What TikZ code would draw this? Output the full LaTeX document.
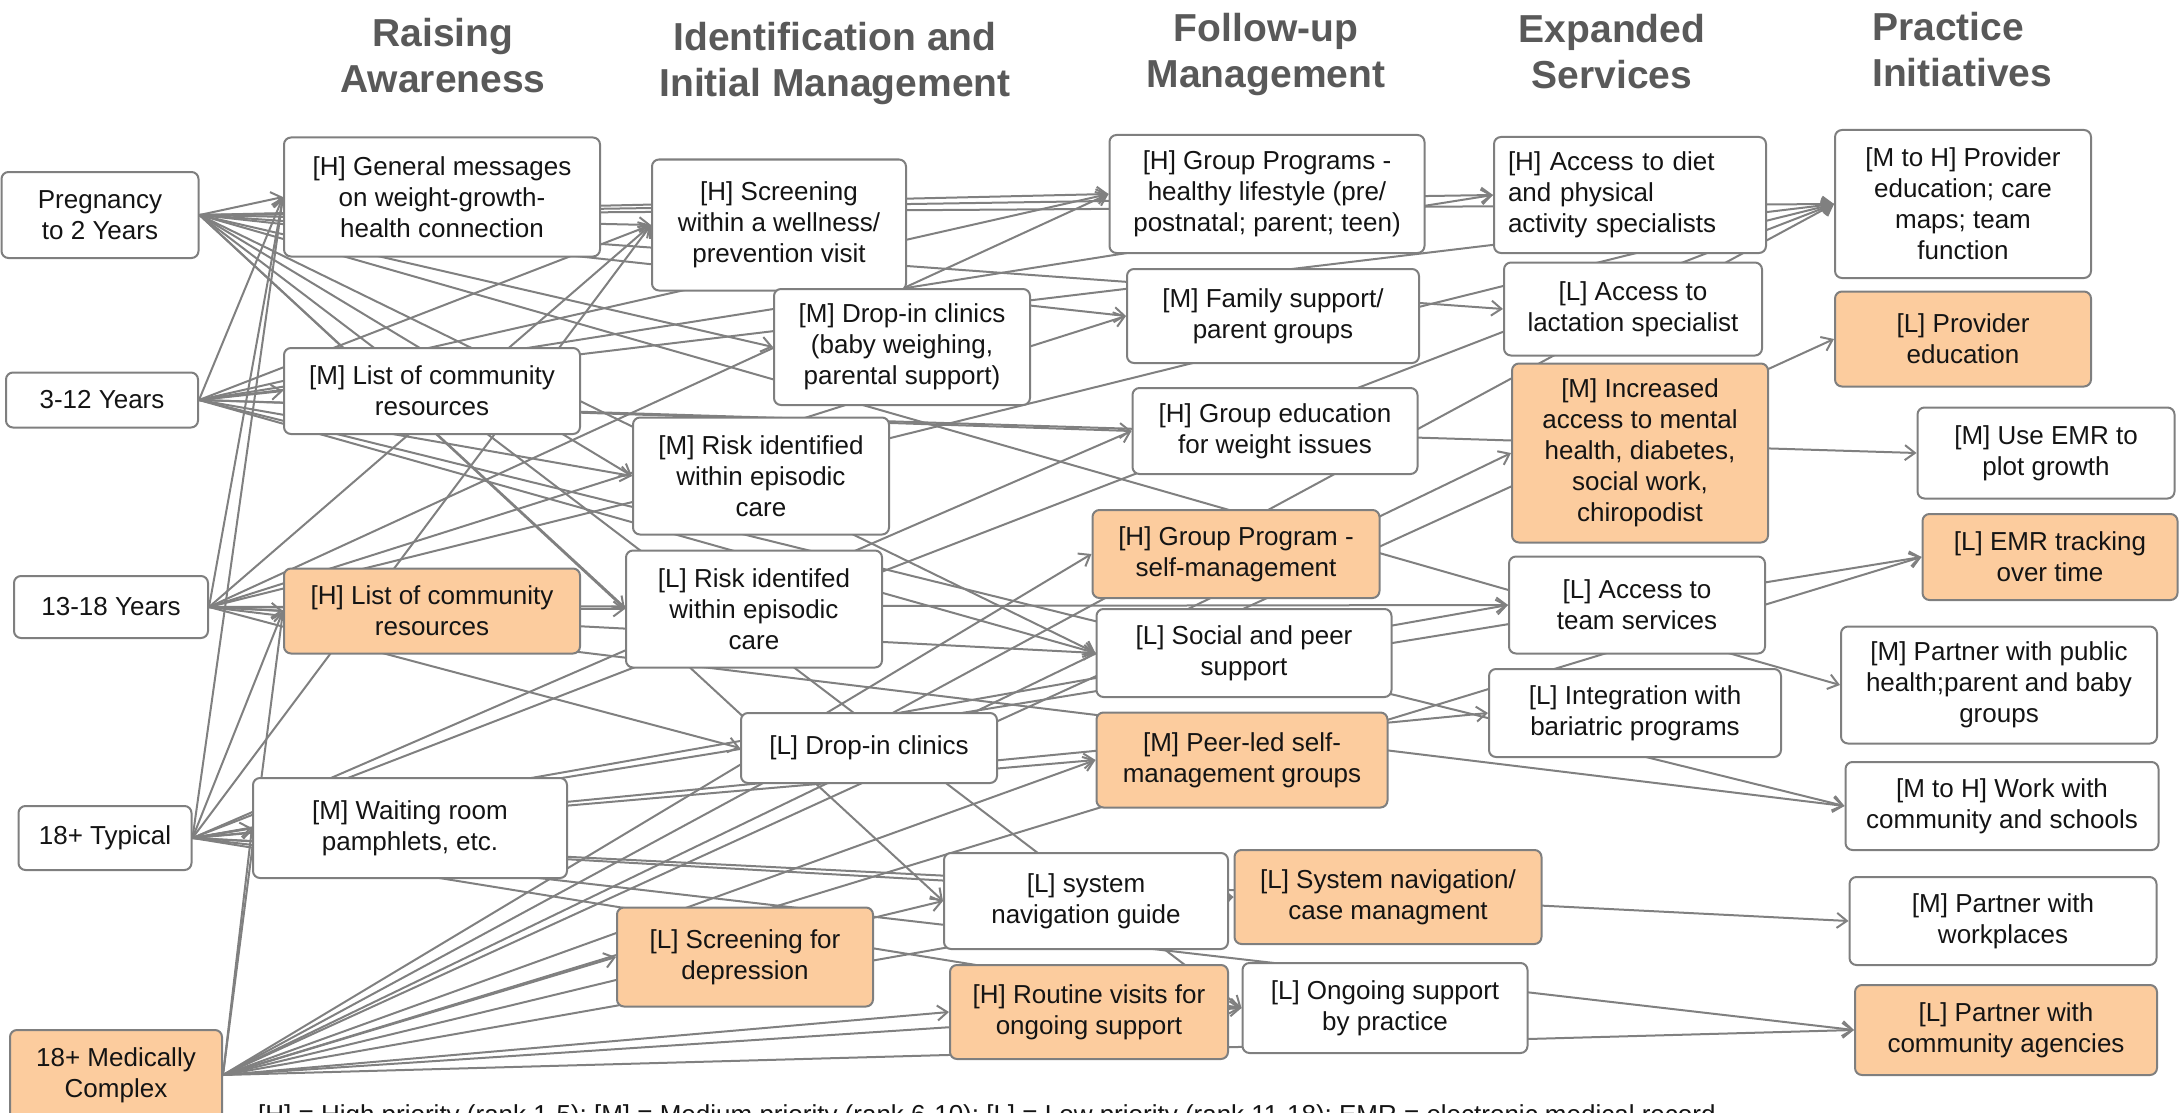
\documentclass[tikz,border=0pt]{standalone}
\usepackage{fontspec}
\setmainfont{Liberation Sans}
\usetikzlibrary{arrows.meta}
\definecolor{peach}{RGB}{252,204,158}
\definecolor{bordergray}{RGB}{127,127,127}
\definecolor{linegray}{RGB}{128,128,128}
\definecolor{headgray}{RGB}{89,89,89}
\definecolor{txt}{RGB}{20,20,20}
\pgfdeclarelayer{bg}
\pgfsetlayers{bg,main}
\tikzset{
 box/.style={draw=bordergray, line width=2pt, rounded corners=7pt, fill=white, inner sep=0pt, align=center, text=txt, font=\fontsize{26}{31}\selectfont},
 pbox/.style={box, fill=peach},
 head/.style={font=\fontsize{39}{46}\selectfont\bfseries, text=headgray, align=center, inner sep=0pt},
 edge/.style={draw=linegray, line width=2pt, -{Straight Barb[length=10pt,width=15pt]}},
 sz/.style 2 args={minimum width=#1pt, minimum height=#2pt},
}
\begin{document}
\begin{tikzpicture}[x=1pt,y=-1pt]
\useasboundingbox (0,0) rectangle (2179,1113);
% headings
\node[head] (h1) at (443,56) {Raising\\Awareness};
\node[head] (h2) at (835,64) {Identification and\\Initial Management};
\node[head] (h3) at (1266,55) {Follow-up\\Management};
\node[head] (h4) at (1612,52) {Expanded\\Services};
\node[head, align=left, anchor=west] (h5) at (1872,50) {Practice\\Initiatives};
% age groups
\node[box, sz={197}{86}] (P) at (100,215) {Pregnancy\\to 2 Years};
\node[box, sz={192}{55}] (K) at (102,400) {3-12 Years};
\node[box, sz={194}{62}] (T) at (111,607) {13-18 Years};
\node[box, sz={173}{64}] (Y) at (105,838) {18+ Typical};
\node[pbox, sz={212}{90}] (X) at (116,1075) {18+ Medically\\Complex};
% column 1
\node[box, sz={316}{119}] (A1) at (442,197) {[H] General messages\\on weight-growth-\\health connection};
\node[box, sz={296}{86}] (A2) at (432,391) {[M] List of community\\resources};
\node[pbox, sz={296}{85}] (A3) at (432,611) {[H] List of community\\resources};
\node[box, sz={314}{100}] (A4) at (410,828) {[M] Waiting room\\pamphlets, etc.};
% column 2
\node[box, sz={254}{131}] (B1) at (779,225) {[H] Screening\\within a wellness/\\prevention visit};
\node[box, sz={256}{116}] (B2) at (902,347) {[M] Drop-in clinics\\(baby weighing,\\parental support)};
\node[box, sz={256}{117}] (B3) at (761,476) {[M] Risk identified\\within episodic\\care};
\node[box, sz={256}{117}] (B4) at (754,609) {[L] Risk identifed\\within episodic\\care};
\node[box, sz={256}{70}] (B5) at (869,748) {[L] Drop-in clinics};
\node[pbox, sz={256}{99}] (B6) at (745,957) {[L] Screening for\\depression};
% column 3
\node[box, sz={315}{118}] (C1) at (1267,194) {[H] Group Programs -\\healthy lifestyle (pre/\\postnatal; parent; teen)};
\node[box, sz={292}{94}] (C2) at (1273,316) {[M] Family support/\\parent groups};
\node[box, sz={285}{86}] (C3) at (1275,431) {[H] Group education\\for weight issues};
\node[pbox, sz={287}{88}] (C4) at (1236,554) {[H] Group Program -\\self-management};
\node[box, sz={295}{88}] (C5) at (1244,653) {[L] Social and peer\\support};
\node[pbox, sz={291}{95}] (C6) at (1242,760) {[M] Peer-led self-\\management groups};
\node[box, sz={284}{96}] (C7) at (1086,901) {[L] system\\navigation guide};
\node[pbox, sz={278}{94}] (C8) at (1089,1012) {[H] Routine visits for\\ongoing support};
% column 4
\node[box, sz={272}{116}, text width=244pt, align=left] (D1) at (1630,195) {[H] Access to diet\\and physical\\activity specialists};
\node[box, sz={258}{93}] (D2) at (1633,309) {[L] Access to\\lactation specialist};
\node[pbox, sz={256}{179}] (D3) at (1640,453) {[M] Increased\\access to mental\\health, diabetes,\\social work,\\chiropodist};
\node[box, sz={256}{97}] (D4) at (1637,605) {[L] Access to\\team services};
\node[box, sz={292}{88}] (D5) at (1635,713) {[L] Integration with\\bariatric programs};
\node[pbox, sz={307}{94}] (D6) at (1388,897) {[L] System navigation/\\case managment};
\node[box, sz={285}{90}] (D7) at (1385,1008) {[L] Ongoing support\\by practice};
% column 5
\node[box, sz={256}{148}] (E1) at (1963,204) {[M to H] Provider\\education; care\\maps; team\\function};
\node[pbox, sz={256}{95}] (E2) at (1963,339) {[L] Provider\\education};
\node[box, sz={257}{91}] (E3) at (2046,453) {[M] Use EMR to\\plot growth};
\node[pbox, sz={255}{86}] (E4) at (2050,557) {[L] EMR tracking\\over time};
\node[box, sz={316}{117}] (E5) at (1999,685) {[M] Partner with public\\health;parent and baby\\groups};
\node[box, sz={313}{88}] (E6) at (2002,806) {[M to H] Work with\\community and schools};
\node[box, sz={307}{88}] (E7) at (2003,921) {[M] Partner with\\workplaces};
\node[pbox, sz={302}{90}] (E8) at (2006,1030) {[L] Partner with\\community agencies};
% note (cut by the page edge, as in the original)
\node[anchor=base west, inner sep=0pt, text=txt, font=\fontsize{26}{31}\selectfont] (note) at (258,1123) {[H] = High priority (rank 1-5); [M] = Medium priority (rank 6-10); [L] = Low priority (rank 11-18); EMR = electronic medical record};
% connectors
\begin{pgfonlayer}{bg}
\foreach \t in {A1,B1,B2,B3,B4,C1,C2,C5,C7,D1,D2,D7,E1,E5} \draw[edge] (P.east) -- (\t.west);
\foreach \t in {A1,A2,B1,B3,C1,C3,C5,D1,E1,E3,E6} \draw[edge] (K.east) -- (\t.west);
\foreach \t in {A1,A3,B1,B4,B5,C1,C2,C5,D4,E1,E6} \draw[edge] (T.east) -- (\t.west);
\foreach \t in {A1,A3,A4,B1,C3,C6,D4,D5,D6,D7,E1,E4,E7,E8} \draw[edge] (Y.east) -- (\t.west);
\foreach \t in {A3,A4,B6,C4,C6,C7,C8,D3,D6,D7,E1,E2,E4,E8} \draw[edge] (X.east) -- (\t.west);
\end{pgfonlayer}
\end{tikzpicture}
\end{document}
